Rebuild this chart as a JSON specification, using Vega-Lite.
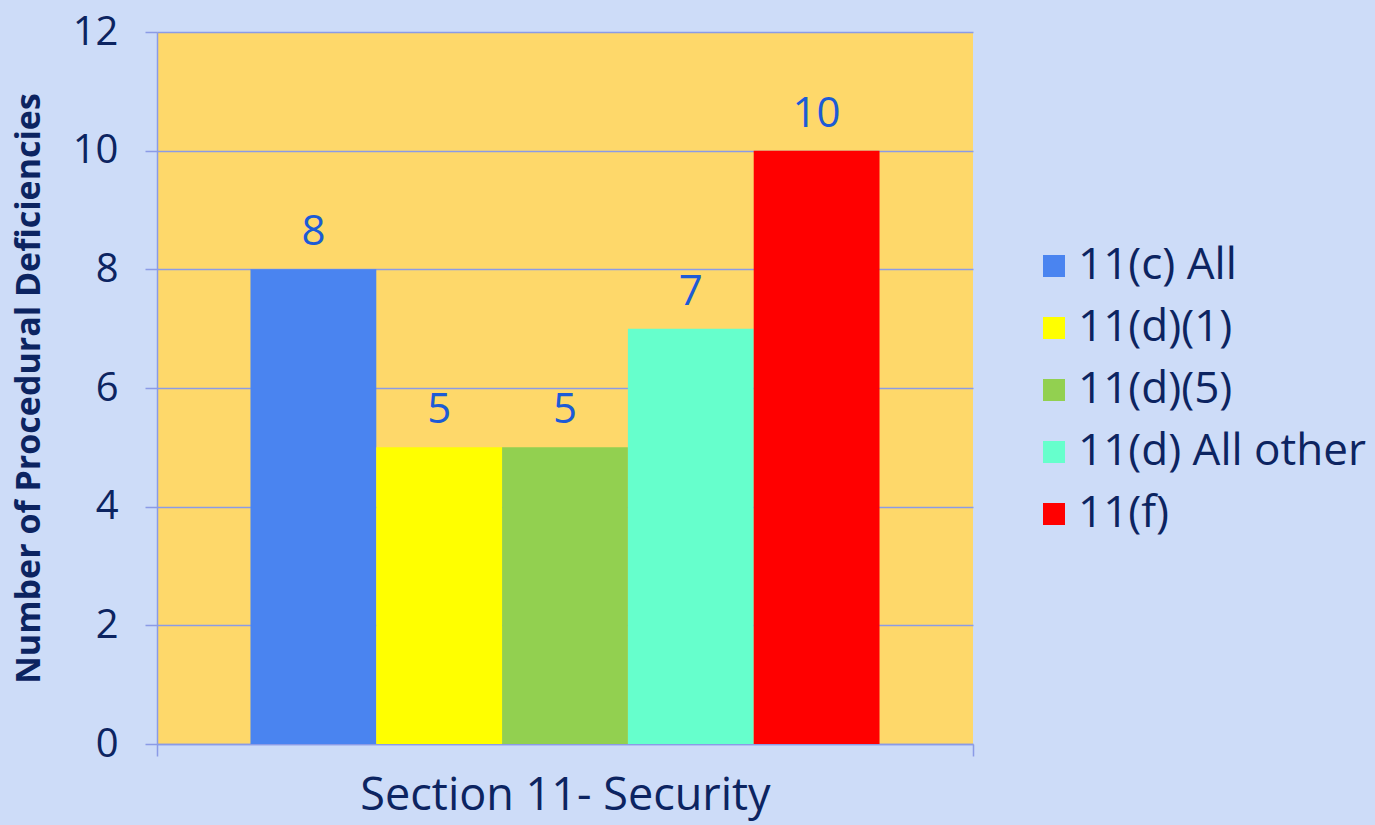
{
  "$schema": "https://vega.github.io/schema/vega-lite/v6.json",
  "autosize": "none",
  "width": 816,
  "height": 712,
  "padding": {"left": 157, "top": 32, "right": 402, "bottom": 81},
  "background": "#cddcf8",
  "config": {
    "view": {"fill": "#fed86a", "stroke": null},
    "font": "Open Sans"
  },
  "data": {
    "values": [
      {"section": "Section 11- Security", "series": "11(c) All", "count": 8},
      {"section": "Section 11- Security", "series": "11(d)(1)", "count": 5},
      {"section": "Section 11- Security", "series": "11(d)(5)", "count": 5},
      {"section": "Section 11- Security", "series": "11(d) All other", "count": 7},
      {"section": "Section 11- Security", "series": "11(f)", "count": 10}
    ]
  },
  "encoding": {
    "xOffset": {
      "field": "series",
      "type": "nominal",
      "sort": ["11(c) All", "11(d)(1)", "11(d)(5)", "11(d) All other", "11(f)"],
      "scale": {"paddingInner": 0, "paddingOuter": 0.743}
    },
    "y": {
      "field": "count",
      "type": "quantitative",
      "scale": {"domain": [0, 12]},
      "axis": {
        "values": [0, 2, 4, 6, 8, 10, 12],
        "grid": true,
        "gridColor": "#8b9be6",
        "gridWidth": 1.5,
        "domainColor": "#8b9be6",
        "domainWidth": 1.5,
        "tickColor": "#8b9be6",
        "tickWidth": 1.5,
        "tickSize": 12,
        "labelFontSize": 40,
        "labelColor": "#0c2461",
        "labelPadding": 27,
        "title": "Number of Procedural Deficiencies",
        "titleFontSize": 34,
        "titleFontWeight": "bold",
        "titleColor": "#0c2461",
        "titlePadding": 26
      }
    }
  },
  "layer": [
    {
      "mark": {"type": "bar"},
      "encoding": {
        "x": {
          "field": "section",
          "type": "nominal",
          "scale": {"paddingInner": 0, "paddingOuter": 0},
          "axis": {
            "orient": "bottom",
            "labels": false,
            "bandPosition": 0,
            "tickSize": 12,
            "tickColor": "#8b9be6",
            "tickWidth": 1.5,
            "domainColor": "#8b9be6",
            "domainWidth": 1.5,
            "title": "Section 11- Security",
            "titleFontSize": 45,
            "titleFontWeight": "normal",
            "titleColor": "#0c2461",
            "titlePadding": 17
          }
        },
        "color": {
          "field": "series",
          "type": "nominal",
          "scale": {
            "domain": ["11(c) All", "11(d)(1)", "11(d)(5)", "11(d) All other", "11(f)"],
            "range": ["#4a84f0", "#ffff00", "#92d050", "#66ffcc", "#ff0000"]
          },
          "legend": {
            "title": null,
            "orient": "none",
            "legendX": 875,
            "legendY": 212,
            "padding": 0,
            "symbolType": "square",
            "symbolSize": 484,
            "symbolStrokeWidth": 0,
            "labelFontSize": 44,
            "labelColor": "#0c2461",
            "labelOffset": 2,
            "rowPadding": 18,
            "labelLimit": 400
          }
        }
      }
    },
    {
      "mark": {"type": "text", "baseline": "alphabetic", "dy": -24, "fontSize": 42, "color": "#1c5bd6"},
      "encoding": {
        "x": {
          "field": "section",
          "type": "nominal",
          "axis": {
            "orient": "bottom",
            "labels": false,
            "domain": false,
            "grid": false,
            "title": null,
            "bandPosition": 1,
            "tickSize": 12,
            "tickColor": "#8b9be6",
            "tickWidth": 1.5
          }
        },
        "text": {"field": "count", "type": "quantitative"}
      }
    }
  ],
  "resolve": {"axis": {"x": "independent"}}
}
